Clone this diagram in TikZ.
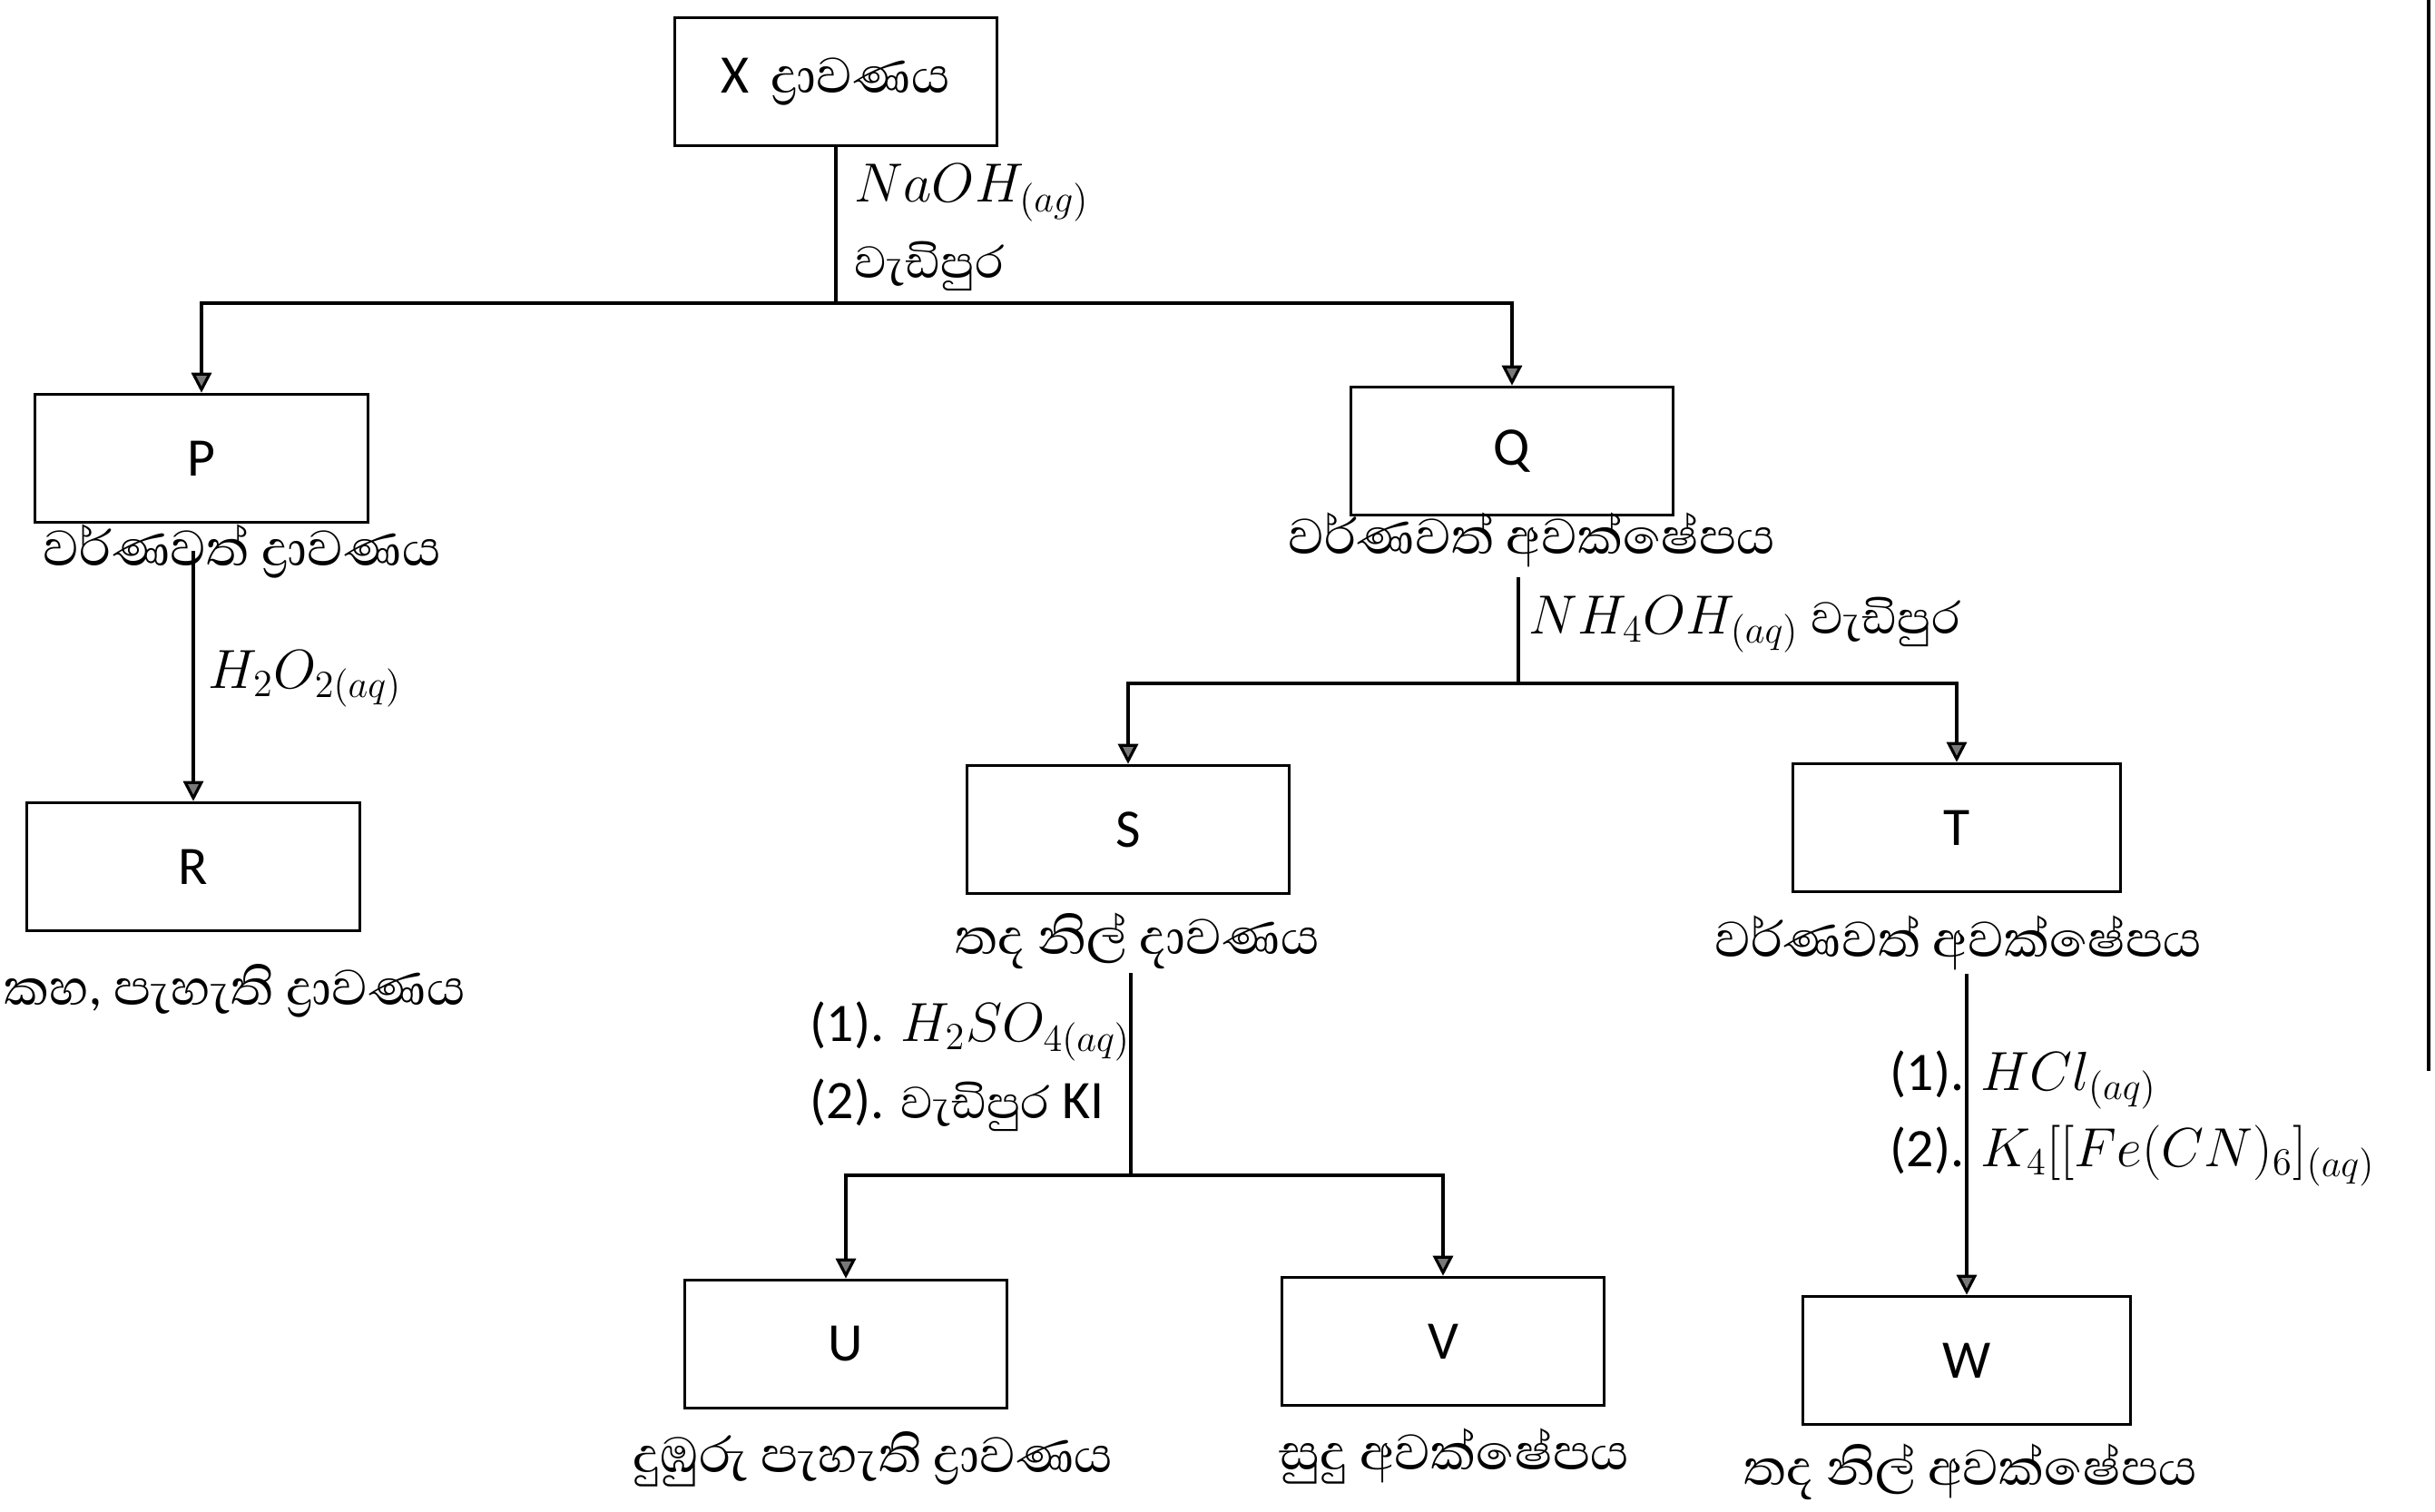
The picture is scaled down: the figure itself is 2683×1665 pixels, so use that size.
\documentclass[tikz,border=0pt]{standalone}
\usepackage{fontspec}
\setmainfont{Carlito}
\newfontfamily\sinfont[Script=Sinhala]{Abhaya Libre}
\usepackage{amsmath}
\usepackage{xcolor}
\definecolor{tipgray}{RGB}{120,120,120}
\usetikzlibrary{arrows.meta, positioning}

\newcommand{\sinbig}{\fontsize{20}{22}\sinfont}
\newcommand{\sinmid}{\fontsize{18}{24}\sinfont}

\begin{document}
\begin{tikzpicture}[x=0.01cm, y=-0.01cm,
    >={Triangle[width=2.2mm, length=2.2mm, fill=tipgray]},
    box/.style={draw, line width=1pt, minimum width=3.55cm, minimum height=1.41cm, inner sep=0pt, font=\fontsize{17}{20}\selectfont},
    res/.style={inner sep=1pt, font=\sinbig\selectfont},
    reag/.style={anchor=west, inner sep=2pt, align=left, font=\fontsize{17}{24}\selectfont},
    conn/.style={line width=0.9pt}]

\useasboundingbox (0,0) rectangle (2683,1665);

% === Boxes ===
\node[box] (X) at (921,90) {X\, {\sinbig ද්^^^^200dරාවණය}};
\node[box, minimum width=3.67cm] (P) at (222,505) {P};
\node[box, minimum width=3.67cm] (R) at (213,955) {R};
\node[box] (Q) at (1666,497) {Q};
\node[box] (S) at (1243,914) {S};
\node[box, minimum width=3.61cm] (T) at (2156,912) {T};
\node[box] (U) at (932,1481) {U};
\node[box] (V) at (1590,1478) {V};
\node[box, minimum width=3.61cm] (W) at (2167,1499) {W};

% === Results under the boxes ===
\node[res] (Plab) at (267,607) {වර්ණවත් ද්^^^^200dරාවණය};
\node[res] (Rlab) at (259,1092) {කහ, පැහැති ද්^^^^200dරාවණය};
\node[res] (Qlab) at (1688,595) {වර්ණවත් අවක්ෂේපය};
\node[res] (Slab) at (1253,1037) {තද නිල් දාවණය};
\node[res] (Tlab) at (2158,1039) {වර්ණවත් අවක්ෂේපය};
\node[res] (Ulab) at (962,1608) {දුඹුරු පැහැති ද්^^^^200dරාවණය};
\node[res] (Vlab) at (1602,1605) {සුදු අවක්ෂේපය};
\node[res] (Wlab) at (2171,1622) {තද නිල් අවක්ෂේපය};

% === Reagents ===
\node[reag] (naoh) at (934,251) {$NaOH_{(ag)}$\\{\sinmid වැඩිපුර}};
\node[reag] (h2o2) at (222,748) {$H_2O_{2(aq)}$};
\node[reag] (nh4oh) at (1677,688) {$NH_4OH_{(aq)}$ {\sinmid වැඩිපුර}};
\node[reag] (h2so4) at (885,1175) {(1). $H_2SO_{4(aq)}$\\(2). {\sinmid වැඩිපුර} KI};
\node[reag] (hcl) at (2075,1232) {(1). $HCl_{(aq)}$\\(2). $K_4[[Fe(CN)_6]_{(aq)}$};

% === Branch points ===
\coordinate (xb) at (921,334);
\coordinate (qb) at (1673,753);
\coordinate (sb) at (1246,1295);

% === Connectors ===
\draw[conn] (X.south) -- (xb);
\draw[conn, ->] (xb) -| (P.north);
\draw[conn, ->] (xb) -| (Q.north);
\draw[conn, ->] (Plab.center -| R.north) -- (R.north);

\draw[conn] ([yshift=-2pt]Qlab.south -| qb) -- (qb);
\draw[conn, ->] (qb) -| (S.north);
\draw[conn, ->] (qb) -| (T.north);

\draw[conn] (Slab.south -| sb) -- (sb);
\draw[conn, ->] (sb) -| (U.north);
\draw[conn, ->] (sb) -| (V.north);

\draw[conn, ->] (Tlab.south -| W.north) -- (W.north);

% page edge
\draw[line width=1.2pt] (2676,0) -- (2676,1180);

\end{tikzpicture}
\end{document}
